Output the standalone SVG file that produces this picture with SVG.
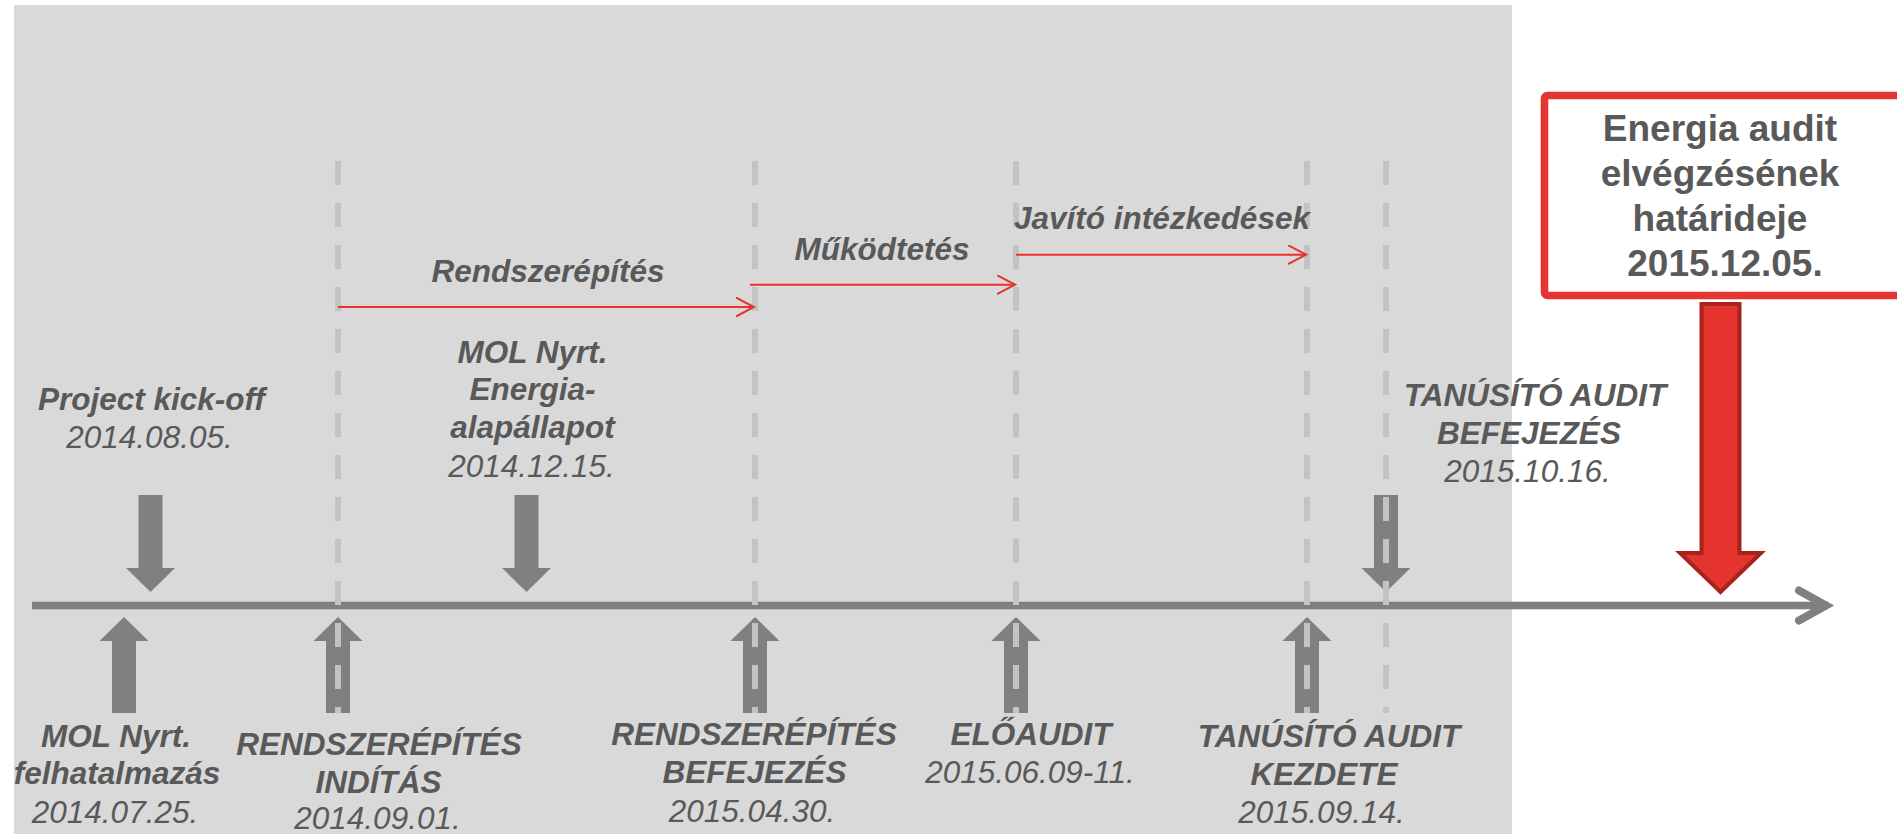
<svg xmlns="http://www.w3.org/2000/svg" width="1897" height="834" viewBox="0 0 1897 834">
<style>
.lbl{font-family:"Liberation Sans",Arial,sans-serif;font-size:31.5px;font-weight:bold;font-style:italic;fill:#595959;text-anchor:middle}
.dt{font-family:"Liberation Sans",Arial,sans-serif;font-size:31.5px;font-style:italic;fill:#595959;text-anchor:middle}
.box{font-family:"Liberation Sans",Arial,sans-serif;font-size:37px;font-weight:bold;fill:#595959;text-anchor:middle}
.garrow{fill:#808080}
.dash{stroke:#c3c3c3;stroke-width:6;stroke-dasharray:24 18;fill:none}
.phase{stroke:#e8332c;stroke-width:2;fill:none}
</style>
<defs>
<path id="down" d="M-12,0 H12 V73 H24.5 L0,97 L-24.5,73 H-12 Z"/>
<path id="up" d="M-12,96 H12 V24 H24.5 L0,0 L-24.5,24 H-12 Z"/>
<marker id="open" markerWidth="20" markerHeight="22" refX="18" refY="10" orient="auto" markerUnits="userSpaceOnUse">
<path d="M0,0.5 L18,10 L0,19.5" fill="none" stroke="#e8332c" stroke-width="2"/>
</marker>
</defs>
<rect x="14" y="5" width="1498" height="829" fill="#d9d9d9"/>

<g id="timeline">
<rect x="32" y="601.7" width="1796" height="7.6" fill="#808080"/>
<polyline points="1799,590.5 1826,605.5 1799,620.5" fill="none" stroke="#808080" stroke-width="8" stroke-linecap="round" stroke-linejoin="miter"/>
</g>

<g id="arrows">
<use href="#down" class="garrow" x="150.5" y="495"/>
<use href="#down" class="garrow" x="526.5" y="495"/>
<use href="#down" class="garrow" x="1386" y="495"/>
<use href="#up" class="garrow" x="124" y="617"/>
<use href="#up" class="garrow" x="338" y="617"/>
<use href="#up" class="garrow" x="755" y="617"/>
<use href="#up" class="garrow" x="1016" y="617"/>
<use href="#up" class="garrow" x="1307" y="617"/>
</g>

<g id="gridlines">
<line class="dash" x1="338" y1="161" x2="338" y2="713"/>
<line class="dash" x1="755" y1="161" x2="755" y2="713"/>
<line class="dash" x1="1016" y1="161" x2="1016" y2="713"/>
<line class="dash" x1="1307" y1="161" x2="1307" y2="713"/>
<line class="dash" x1="1386" y1="161" x2="1386" y2="713"/>
</g>

<g id="connectors">
<line class="phase" x1="338" y1="307" x2="754" y2="307" marker-end="url(#open)"/>
<line class="phase" x1="750" y1="284.7" x2="1015" y2="284.7" marker-end="url(#open)"/>
<line class="phase" x1="1016" y1="254.7" x2="1306" y2="254.7" marker-end="url(#open)"/>
</g>

<g id="phase-rendszerepites"><text class="lbl" x="548" y="281.7">Rendszerépítés</text></g>
<g id="phase-mukodtetes"><text class="lbl" x="882" y="260">Működtetés</text></g>
<g id="phase-javito"><text class="lbl" x="1162" y="229.3">Javító intézkedések</text></g>

<g id="kickoff">
<text class="lbl" x="151.5" y="409.5">Project kick-off</text>
<text class="dt" x="149.5" y="447.5">2014.08.05.</text>
</g>
<g id="mol-energia">
<text class="lbl" x="532.5" y="362.7">MOL Nyrt.</text>
<text class="lbl" x="532.5" y="400">Energia-</text>
<text class="lbl" x="532.5" y="438.3">alapállapot</text>
<text class="dt" x="531.5" y="476.7">2014.12.15.</text>
</g>
<g id="mol-felhatalmazas">
<text class="lbl" x="116" y="746.7">MOL Nyrt.</text>
<text class="lbl" x="117" y="784">felhatalmazás</text>
<text class="dt" x="115" y="822.5">2014.07.25.</text>
</g>
<g id="rendszer-inditas">
<text class="lbl" x="379" y="755">RENDSZERÉPÍTÉS</text>
<text class="lbl" x="378.5" y="793.3">INDÍTÁS</text>
<text class="dt" x="377.5" y="829">2014.09.01.</text>
</g>
<g id="rendszer-befejezes">
<text class="lbl" x="754" y="745">RENDSZERÉPÍTÉS</text>
<text class="lbl" x="754.5" y="783.3">BEFEJEZÉS</text>
<text class="dt" x="752" y="821.7">2015.04.30.</text>
</g>
<g id="eloaudit">
<text class="lbl" x="1031" y="745">ELŐAUDIT</text>
<text class="dt" x="1030" y="783.3">2015.06.09-11.</text>
</g>
<g id="tanusito-kezdete">
<text class="lbl" x="1329" y="747">TANÚSÍTÓ AUDIT</text>
<text class="lbl" x="1324" y="785">KEZDETE</text>
<text class="dt" x="1321.5" y="823">2015.09.14.</text>
</g>
<g id="tanusito-befejezes">
<text class="lbl" x="1535" y="406">TANÚSÍTÓ AUDIT</text>
<text class="lbl" x="1529" y="444">BEFEJEZÉS</text>
<text class="dt" x="1527.5" y="482">2015.10.16.</text>
</g>

<g id="deadline">
<rect x="1544.5" y="95.5" width="360" height="200" rx="3" fill="#ffffff" stroke="#e53530" stroke-width="7.6"/>
<text class="box" x="1720" y="140.5">Energia audit</text>
<text class="box" x="1720" y="185.5">elvégzésének</text>
<text class="box" x="1720" y="230.5">határideje</text>
<text class="box" x="1725" y="275.5">2015.12.05.</text>
<path d="M1701.5,304 H1739.5 V553 H1761 L1720.5,592 L1680,553 H1701.5 Z" fill="#e5332d" stroke="#a8221e" stroke-width="4"/>
</g>
</svg>
